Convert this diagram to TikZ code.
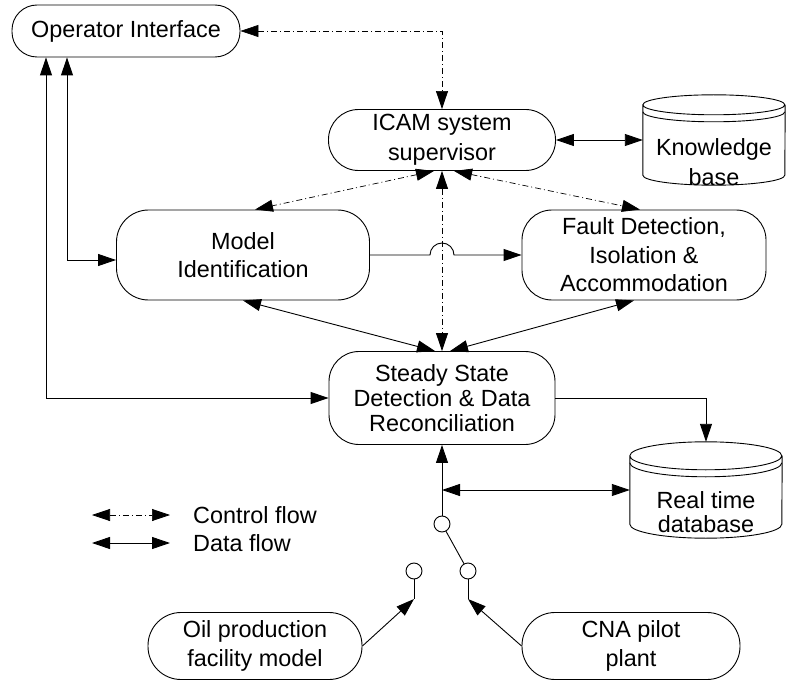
\documentclass[tikz,border=0pt]{standalone}
\usepackage{fontspec}
\setmainfont{Liberation Sans}
\usetikzlibrary{arrows.meta}
\tikzset{block/.style = {draw, rectangle, rounded corners = #1, align = center, inner sep = 0pt, line width = 0.9pt}}
\tikzset{flow/.style = {line width = 0.9pt, > = {Triangle[length = 18pt, width = 12pt]}}}
\tikzset{data/.style = {flow}}
\tikzset{ctrl/.style = {flow, line width = 0.7pt, dash pattern = on 6pt off 3pt on 1pt off 3pt}}
\tikzset{dbbox/.style = {rectangle, inner sep = 0pt}}
\tikzset{dbtext/.style = {align = center, inner sep = 0pt}}
\tikzset{switchpt/.style = {shape = circle, draw, minimum size = 16pt, inner sep = 0pt, line width = 0.9pt}}
\newcommand{\dbshape}[3]{%
  \draw[line width = 0.9pt] ([yshift=-#3]#1.north west) arc[start angle=180, end angle=540, x radius=#2, y radius=#3]
    -- ([yshift=#3]#1.south west) arc[start angle=180, end angle=360, x radius=#2, y radius=#3]
    -- ([yshift=-#3]#1.north east);
  \draw[line width = 0.9pt] ([yshift=-#3-7pt]#1.north west) arc[start angle=180, end angle=360, x radius=#2, y radius=#3];
}

\begin{document}
\begin{tikzpicture}[x=1pt, y=-1pt, font=\fontsize{23.4}{28.5}\selectfont]
	\useasboundingbox (0,0) rectangle (788,682);

	\node[block=25, minimum width=228, minimum height=52] (oi) at (126,31) {Operator Interface};
	\node[block=30, minimum width=227, minimum height=61, font=\fontsize{23.4}{30}\selectfont] (icam) at (442,140) {ICAM system\\supervisor};
	\node[block=32, minimum width=253, minimum height=90] (mi) at (243,255) {Model\\Identification};
	\node[block=30, minimum width=244, minimum height=90] (fdi) at (644,255) {Fault Detection,\\Isolation \&\\Accommodation};
	\node[block=30, minimum width=226, minimum height=93, font=\fontsize{23.4}{25}\selectfont] (ssd) at (442,398) {Steady State\\Detection \& Data\\Reconciliation};
	\node[block=33, minimum width=214, minimum height=67] (oil) at (255,646) {Oil production\\facility model};
	\node[block=33, minimum width=218, minimum height=67] (cna) at (631,646) {CNA pilot\\plant};

	% databases
	\node[dbbox, minimum width=142, minimum height=90] (kb) at (714,140) {};
	\dbshape{kb}{71pt}{10pt}
	\node[dbtext, font=\fontsize{23.4}{30}\selectfont] (kbtext) at ([yshift=-22pt]kb.center) {Knowledge\\base};
	\node[dbbox, minimum width=152, minimum height=96] (rtdb) at (706,490) {};
	\dbshape{rtdb}{76pt}{14pt}
	\node[dbtext, font=\fontsize{23.4}{24}\selectfont] (rtdbtext) at ([yshift=-22pt]rtdb.center) {Real time\\database};

	% switch
	\node[switchpt] (s0) at (442,524) {};
	\node[switchpt] (s1) at (414,571) {};
	\node[switchpt] (s2) at (468,571) {};
	\coordinate (t1) at (414,599);
	\coordinate (t2) at (468,599);
	\coordinate (tap) at (ssd.south |- rtdb.west);
	\coordinate (hop) at (icam.south |- mi.east);

	% control flow
	\draw[ctrl, <->] (oi.east) -| (icam.north);
	\draw[ctrl, <->] ([xshift=-8pt]icam.south) -- ([xshift=12pt]mi.north);
	\draw[ctrl, <->] ([xshift=12pt]icam.south) -- ([xshift=-4pt]fdi.north);
	\draw[ctrl, <->] (icam.south) -- (ssd.north);

	% data flow
	\draw[data, <->] (icam.east) -- (kb.west);
	\draw[data, ->] (mi.east) -- ([xshift=-12pt]hop) arc[start angle=180, end angle=0, radius=12pt] -- (fdi.west);
	\draw[data, <->] (mi.south) -- ([xshift=-7pt]ssd.north);
	\draw[data, <->] ([xshift=-10pt]fdi.south) -- ([xshift=8pt]ssd.north);
	\draw[data, <->] ([xshift=-59pt]oi.south) |- ([yshift=-5pt]mi.west);
	\draw[data, <->] ([xshift=-80pt]oi.south) |- (ssd.west);
	\draw[data, ->] (ssd.east) -| (rtdb.north);
	\draw[data, ->] (s0) -- (ssd.south);
	\draw[data, <->] (tap) -- (rtdb.west);
	\draw[data] (s0) -- (s2);
	\draw[data] (s1) -- (t1);
	\draw[data] (s2) -- (t2);
	\draw[data, ->] (oil.east) -- (t1);
	\draw[data, ->] (cna.west) -- (t2);

	% legend
	\coordinate (lc1) at (92,515);
	\coordinate (lc2) at (170,515);
	\coordinate (ld1) at (92,543);
	\coordinate (ld2) at (170,543);
	\draw[ctrl, <->] (lc1) -- (lc2);
	\draw[data, <->] (ld1) -- (ld2);
	\node[anchor=west, inner sep=0pt] (ctrltext) at (193,515) {Control flow};
	\node[anchor=west, inner sep=0pt] (datatext) at (193,543) {Data flow};
\end{tikzpicture}
\end{document}
